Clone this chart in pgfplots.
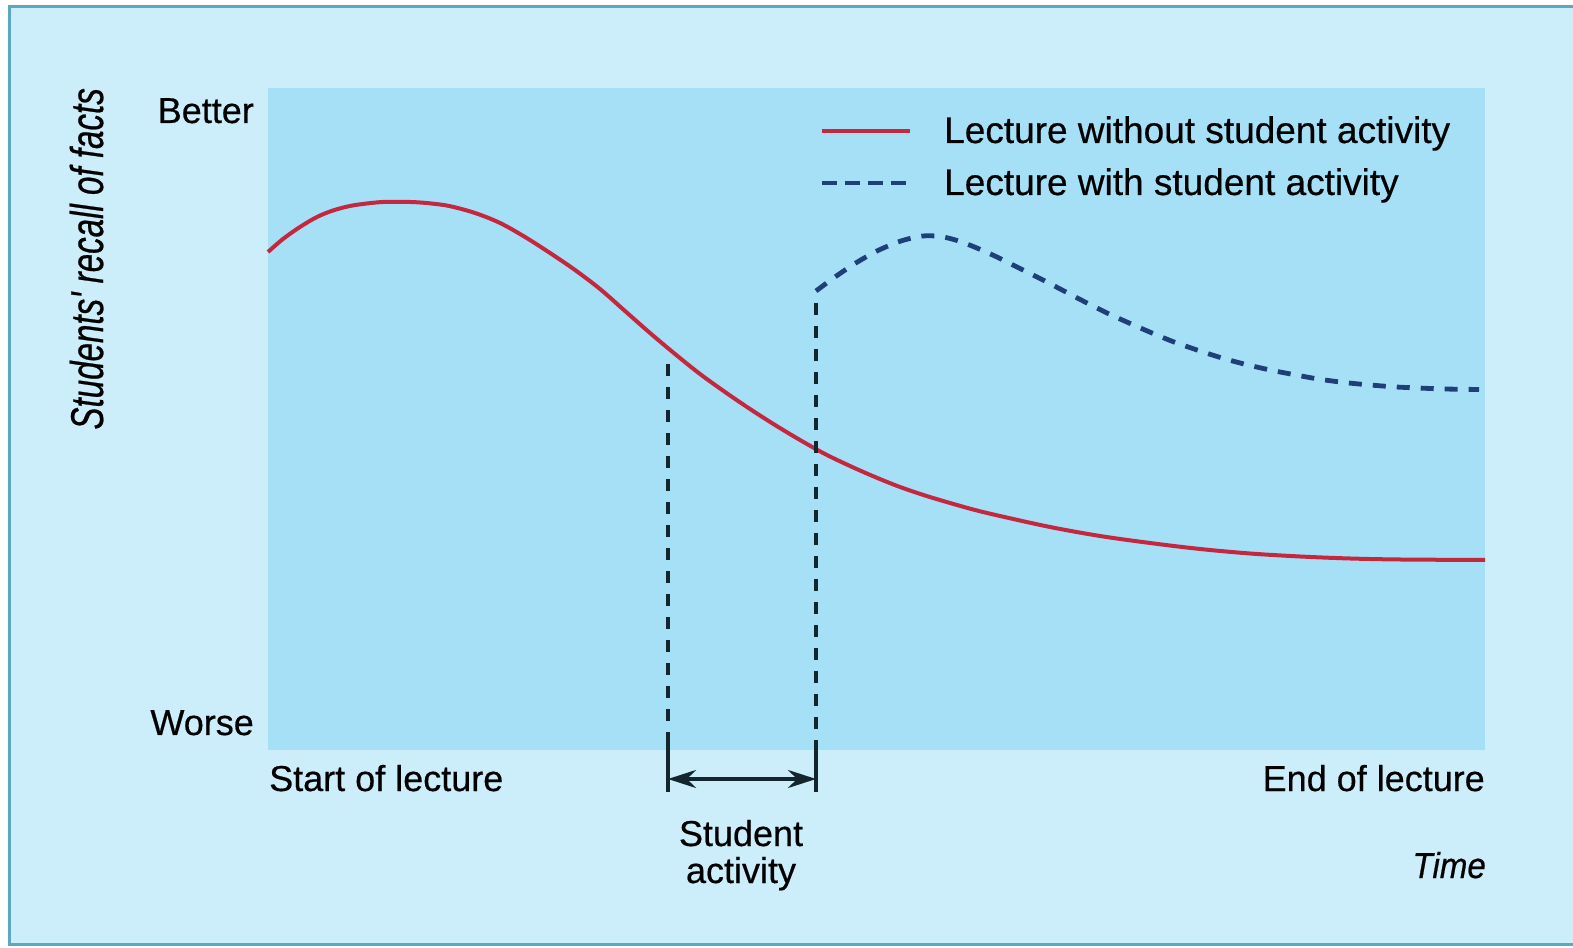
\documentclass[border=0pt]{standalone}
\usepackage{fontspec}
\setmainfont{Liberation Sans}[FakeBold=0.5]
\newfontfamily\mainfam{Liberation Sans}[FakeBold=0.5]
\newfontfamily\ylabfont{Liberation Sans}[FakeStretch=0.72, FakeBold=0.5]
\newfontfamily\timefont{Liberation Sans}[FakeStretch=0.92, FakeBold=0.5]
\usepackage{pgfplots}
\pgfplotsset{compat=1.18}
\usetikzlibrary{arrows.meta}
\definecolor{outerbg}{HTML}{CBEEFA}
\definecolor{plotbg}{HTML}{A6E0F7}
\definecolor{framec}{HTML}{5BA9C0}
\definecolor{redc}{HTML}{C4283F}
\definecolor{bluec}{HTML}{1F3F78}
\definecolor{blackc}{HTML}{13252D}
\definecolor{textc}{HTML}{1E2A32}
\newcommand\mainf{\mainfam\fontsize{36bp}{44bp}\selectfont}
\newcommand\legf{\mainfam\fontsize{37bp}{44bp}\selectfont}

% Lecture without student activity
\pgfplotstableread{
x y
268 695
283 708
300 720
317 730
333 736.5
350 741
367 743.5
383 745
400 745.2
417 744.7
433 743.3
450 740.8
475 734
500 724
525 710
550 694
575 677
600 658
625 636
650 614
675 593
700 573
725 555
750 538
775 522
800 507
825 493
850 481
875 470
900 460
925 451.5
950 444
975 437
1000 431
1050 420
1100 411
1150 404
1200 398
1250 393.5
1300 390.5
1350 388.5
1400 387.5
1485 387
}\without

% Lecture with student activity
\pgfplotstableread{
x y
816 656
835 670
855 683.5
877 696
898 705
912 709
923 711
935 711
948 709
960 705.5
972 701
986 695
1000 688.5
1022 677.5
1044 666.5
1063 656.5
1085 645
1107 634
1129 624
1152 614
1174 605
1200 596
1222 589
1244 583
1270 577
1296 572
1318 568
1344 564.5
1370 562
1396 560
1418 559
1444 558
1479 557.5
}\withact

\begin{document}
\begin{tikzpicture}[x=1bp,y=1bp]
\path[use as bounding box] (0,0) rectangle (1573,947);
\fill[white] (0,0) rectangle (1573,947);
\fill[outerbg] (9,3) rectangle (1573,940);
\draw[framec, line width=3bp] (1573,940) -- (9,940) -- (9,3) -- (1573,3);

\begin{axis}[
  at={(268bp,197bp)}, anchor=south west,
  scale only axis, width=1217bp, height=662bp,
  xmin=268, xmax=1485, ymin=197, ymax=859,
  axis line style={draw=none},
  xtick=\empty, ytick=\empty,
  axis background/.style={fill=plotbg},
  clip=false,
  every node/.style={text=textc},
]
\addplot[redc, line width=4bp, smooth, tension=0.55] table[x=x,y=y] {\without};
\addplot[bluec, line width=4.8bp, smooth, tension=0.5, dash pattern=on 13bp off 11bp] table[x=x,y=y] {\withact};

% activity markers
\draw[blackc, line width=3.2bp, dash pattern=on 12bp off 11bp] (668,583) -- (668,205);
\draw[blackc, line width=3.2bp, dash pattern=on 12bp off 11bp] (816,644) -- (816,205);
\draw[blackc, line width=3.2bp] (668,205) -- (668,155);
\draw[blackc, line width=3.2bp] (816,205) -- (816,155);
\draw[blackc, line width=3.2bp, {Stealth[length=28bp,width=18bp]}-{Stealth[length=28bp,width=18bp]}] (668,168) -- (816,168);

% legend
\draw[redc, line width=4bp] (822,816) -- (910,816);
\draw[bluec, line width=4.8bp, dash pattern=on 15bp off 8bp] (822,764) -- (910,764);
\node[anchor=base west, inner sep=0pt, font=\legf] at (944,804) {Lecture without student activity};
\node[anchor=base west, inner sep=0pt, font=\legf] at (944,752) {Lecture with student activity};

% axis texts
\node[anchor=base east, inner sep=0pt, font=\mainf] at (254,824) {Better};
\node[anchor=base east, inner sep=0pt, font=\mainf] at (254,212) {Worse};
\node[anchor=base west, inner sep=0pt, font=\mainf] at (269,156) {Start of lecture};
\node[anchor=base east, inner sep=0pt, font=\mainf] at (1485,156) {End of lecture};
\node[anchor=base, inner sep=0pt, font=\mainf] at (741,101) {Student};
\node[anchor=base, inner sep=0pt, font=\mainf] at (741,64) {activity};
\node[anchor=base east, inner sep=0pt, font={\timefont\itshape\fontsize{36bp}{44bp}\selectfont}] at (1486,69) {Time};
\node[anchor=base east, rotate=90, inner sep=0pt, font={\ylabfont\itshape\fontsize{46bp}{52bp}\selectfont}] at (103,859) {Students' recall of facts};
\end{axis}
\end{tikzpicture}
\end{document}
